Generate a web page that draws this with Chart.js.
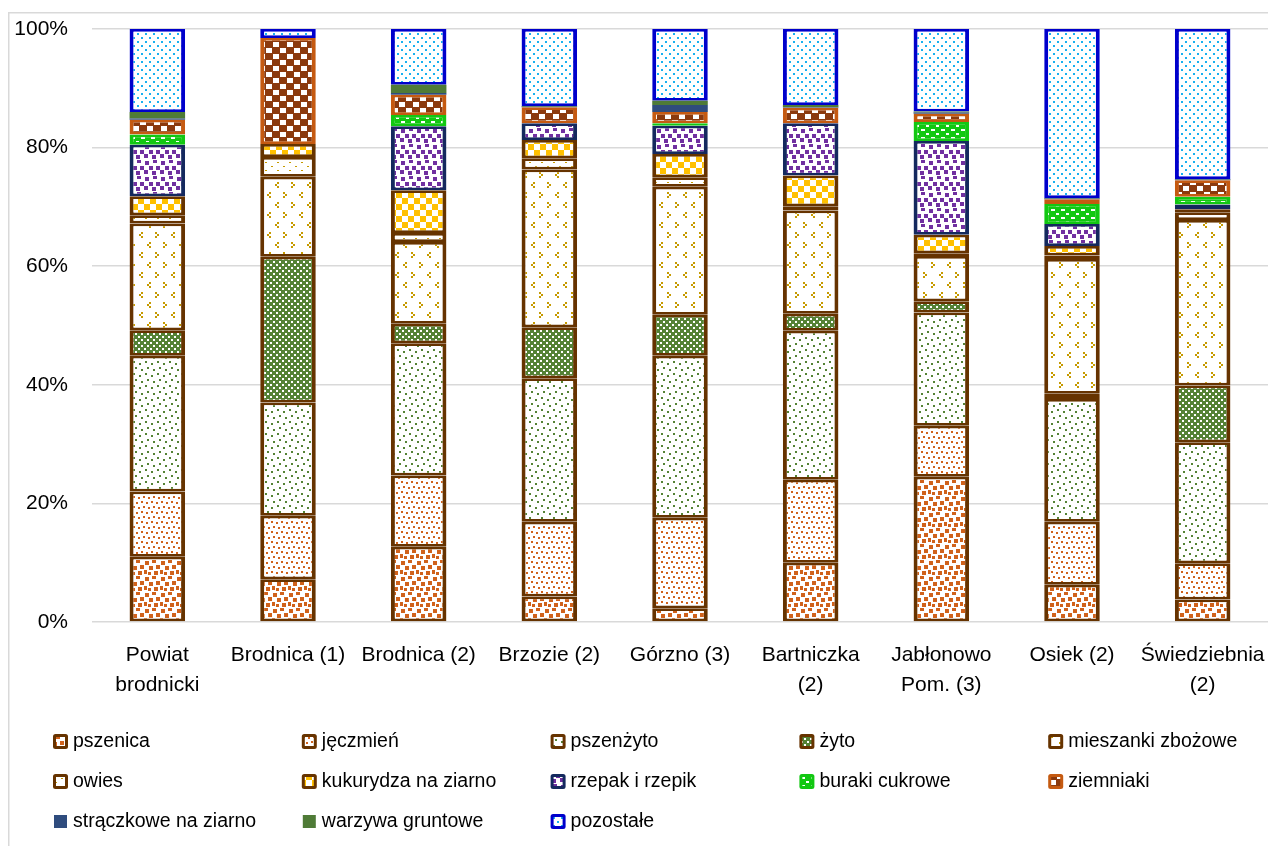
<!DOCTYPE html>
<html>
<head>
<meta charset="utf-8">
<script src="https://cdn.jsdelivr.net/npm/chart.js@4.4.1/dist/chart.umd.min.js"></script>
<style>
  html, body { margin: 0; padding: 0; background: #fff; }
  canvas { display: block; }
</style>
</head>
<body>
<canvas id="c" width="1268" height="846"></canvas>
<script>
// Struktura zasiewów (% powierzchni) w gminach powiatu brodnickiego
const categories = [['Powiat', 'brodnicki'], 'Brodnica (1)', 'Brodnica (2)', 'Brzozie (2)', 'Górzno (3)',
                    ['Bartniczka', '(2)'], ['Jabłonowo', 'Pom. (3)'], 'Osiek (2)', ['Świedziebnia', '(2)']];

const pszenica   = [11.0,  7.2, 12.7,  4.3,  2.3, 10.0, 24.5,  6.3,  3.8];
const jeczmien   = [11.0, 10.7, 12.0, 12.6, 15.3, 14.0,  8.6, 10.6,  6.1];
const pszenzyto  = [22.9, 19.1, 22.3, 24.2, 27.3, 25.1, 19.1, 20.7, 20.4];
const zyto       = [ 4.3, 24.6,  3.3,  8.6,  6.9,  2.9,  1.9,  0.9,  9.6];
const mieszanki  = [18.0, 13.5, 13.8, 26.6, 21.6, 17.4,  7.6, 22.7, 27.9];
const owies      = [ 1.4,  3.3,  1.5,  1.9,  1.6,  0.7,  0.5,  0.6,  1.3];
const kukurydza  = [ 3.2,  2.2,  7.2,  3.1,  3.9,  5.2,  3.1,  1.6,  0.5];
const rzepak     = [ 8.7,  0.0, 10.8,  2.8,  4.8,  8.8, 15.8,  3.7,  0.8];
const buraki     = [ 1.7,  0.0,  1.9,  0.0,  0.4,  0.0,  3.2,  3.4,  1.3];
const ziemniaki  = [ 2.5, 17.9,  3.4,  2.7,  1.9,  2.6,  1.4,  0.8,  2.8];
const straczkowe = [ 0.2,  0.0,  0.3,  0.1,  1.2,  0.1,  0.2,  0.1,  0.1];
const warzywa    = [ 1.1,  0.0,  1.4,  0.1,  0.7,  0.4,  0.2,  0.1,  0.1];
const pozostale  = [14.0,  1.5,  9.4, 13.0, 12.1, 12.8, 13.9, 28.5, 25.3];

const seriesNames = ['pszenica', 'jęczmień', 'pszenżyto', 'żyto', 'mieszanki zbożowe', 'owies',
                     'kukurydza na ziarno', 'rzepak i rzepik', 'buraki cukrowe', 'ziemniaki',
                     'strączkowe na ziarno', 'warzywa gruntowe', 'pozostałe'];
const seriesValues = [pszenica, jeczmien, pszenzyto, zyto, mieszanki, owies, kukurydza,
                      rzepak, buraki, ziemniaki, straczkowe, warzywa, pozostale];

const yTicks = [0, 20, 40, 60, 80, 100];

const FONT = "'Liberation Sans', Arial, sans-serif";
const canvas = document.getElementById('c');
const mainCtx = canvas.getContext('2d');

// small repeating fill tiles
function tile(w, h, bg, fg, rects) {
  const t = document.createElement('canvas');
  t.width = w; t.height = h;
  const g = t.getContext('2d');
  g.fillStyle = bg; g.fillRect(0, 0, w, h);
  g.fillStyle = fg;
  rects.forEach(([x, y, rw, rh]) => g.fillRect(x, y, rw, rh));
  return mainCtx.createPattern(t, 'repeat');
}
// chevron marks built from 2px blocks
function gt(ox, oy) { return [[ox, oy, 2, 2], [ox + 2, oy + 2, 2, 2], [ox, oy + 4, 2, 2]]; }
function lt(ox, oy) { return [[ox + 2, oy, 2, 2], [ox, oy + 2, 2, 2], [ox + 2, oy + 4, 2, 2]]; }

const BROWN = '#663300';
const ORANGE = '#d0621b';
const GREEN = '#548235';
const GOLD = '#c69a00';

const styles = [
  { fill: tile(16, 16, '#fff', ORANGE, [[1,1,4,4],[8,0,4,3],[12,5,4,4],[5,6,4,4],[10,11,4,4],[0,10,3,4],[4,12,3,3]]), border: BROWN },
  { fill: tile(10, 10, '#fff', ORANGE, [[1,1,2,2],[6,2,2,2],[3,6,2,2],[8,7,2,2]]), border: BROWN },
  { fill: tile(12, 12, '#fff', GREEN, [[1,1,2,2],[7,3,2,2],[3,7,2,2],[9,9,2,2]]), border: BROWN },
  { fill: tile(6, 6, GREEN, '#fff', [[0,0,2,2],[3,3,2,2]]), border: BROWN },
  { fill: tile(32, 20, '#fff', GOLD, [].concat(gt(3,2), lt(19,2), lt(11,12), gt(27,12))), border: BROWN },
  { fill: tile(12, 8, '#fff', GOLD, [[1,2,2,1],[7,6,2,1]]), border: BROWN },
  { fill: tile(12, 12, '#fff', '#ffc000', [[0,0,6,6],[6,6,6,6]]), border: BROWN },
  { fill: tile(16, 16, '#fff', '#7030a0', [[1,1,4,4],[9,0,4,3],[5,6,4,4],[12,6,4,4],[0,10,4,4],[8,11,4,4]]), border: '#14295e' },
  { fill: tile(10, 8, '#12c812', '#fff', [[1,1,4,2],[6,5,3,2]]), border: '#12c812' },
  { fill: tile(14, 12, '#8b3a0e', '#fff', [[0,0,6,5],[7,6,6,5]]), border: '#c55a11' },
  { fill: '#2f4c7e', border: '#2f4c7e', solid: true },
  { fill: '#4f7b37', border: '#4f7b37', solid: true },
  { fill: tile(8, 8, '#fff', '#19b0f0', [[1,1,2,2],[5,5,2,2]]), border: '#0000cc' }
];

const datasets = seriesNames.map((name, i) => {
  const st = styles[i];
  return {
    label: name,
    data: seriesValues[i],
    backgroundColor: st.fill,
    borderColor: st.border,
    borderWidth: st.solid ? 0 : { top: 2.75, bottom: 2.75, left: 4, right: 4 },
    borderSkipped: false,
    categoryPercentage: 1.0,
    barPercentage: 0.425,
    _solid: !!st.solid
  };
});

// light frame around the whole chart
const framePlugin = {
  id: 'frame',
  beforeDraw(chart) {
    const ctx = chart.ctx;
    ctx.save();
    ctx.fillStyle = '#fff';
    ctx.fillRect(0, 0, chart.width, chart.height);
    ctx.strokeStyle = '#d9d9d9';
    ctx.lineWidth = 1.5;
    ctx.strokeRect(8.75, 12.75, chart.width + 20, chart.height + 20);
    ctx.restore();
  }
};

// legend laid out in five fixed columns under the axis
const legendGrid = {
  id: 'legendGrid',
  afterDraw(chart) {
    const ctx = chart.ctx;
    ctx.save();
    ctx.font = '19.5px ' + FONT;
    ctx.textBaseline = 'middle';
    ctx.textAlign = 'left';
    chart.data.datasets.forEach((ds, i) => {
      const col = i % 5, row = Math.floor(i / 5);
      const x = 53 + col * 248.8;
      const y = 741 + row * 40;
      if (ds._solid) {
        ctx.fillStyle = ds.backgroundColor;
        ctx.fillRect(x + 1, y - 6, 13, 13);
      } else {
        ctx.fillStyle = ds.borderColor;
        ctx.beginPath();
        ctx.roundRect(x, y - 7, 15, 15, 2.5);
        ctx.fill();
        ctx.fillStyle = ds.backgroundColor;
        ctx.fillRect(x + 3, y - 4, 9, 9);
      }
      ctx.fillStyle = '#000';
      ctx.fillText(ds.label, x + 20, y + 0.5);
    });
    ctx.restore();
  }
};

new Chart(canvas, {
  type: 'bar',
  data: { labels: categories, datasets },
  plugins: [framePlugin, legendGrid],
  options: {
    responsive: false,
    animation: false,
    devicePixelRatio: 1,
    layout: { padding: { left: 14, right: 0, top: 29, bottom: 146 } },
    plugins: {
      legend: { display: false },
      tooltip: { enabled: false }
    },
    scales: {
      x: {
        stacked: true,
        grid: { display: false, drawTicks: false },
        border: { display: false },
        afterFit(s) { s.paddingLeft = 0; s.paddingRight = 0; s.height = 78; },
        ticks: {
          color: '#000',
          padding: 18,
          maxRotation: 0,
          autoSkip: false,
          font: { family: FONT, size: 21, lineHeight: 1.43 }
        }
      },
      y: {
        stacked: true,
        min: 0,
        max: 100,
        afterBuildTicks(scale) { scale.ticks = yTicks.map(v => ({ value: v })); },
        afterFit(s) { s.paddingTop = 0; s.paddingBottom = 0; s.width = 78; },
        grid: { color: '#d9d9d9', lineWidth: 1.5, drawTicks: false },
        border: { display: false },
        ticks: {
          color: '#000',
          padding: 24,
          font: { family: FONT, size: 21 },
          callback: v => v + '%'
        }
      }
    }
  }
});
</script>
</body>
</html>
